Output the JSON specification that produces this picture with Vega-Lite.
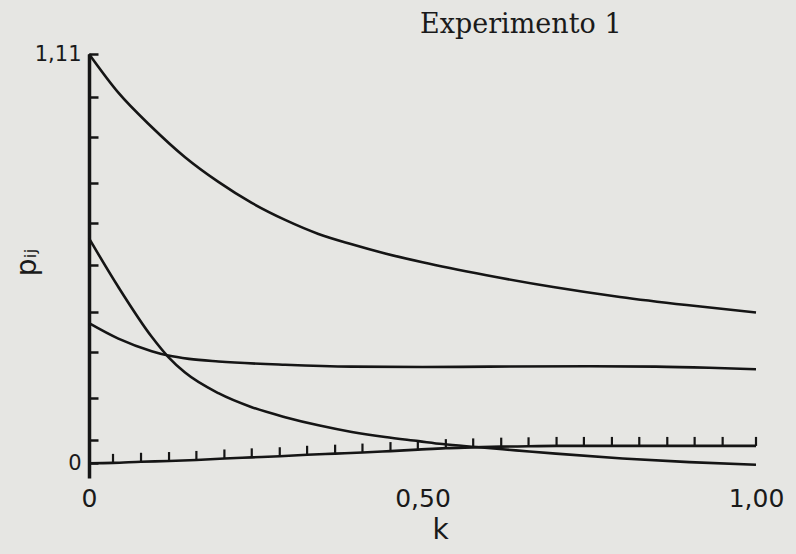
{
  "$schema": "https://vega.github.io/schema/vega-lite/v6.json",
  "autosize": {"type": "none"},
  "padding": {"left": 89, "top": 54, "right": 40, "bottom": 76},
  "width": 667,
  "height": 424,
  "background": "#e6e6e3",
  "config": {"view": {"stroke": null}, "font": "DejaVu Sans"},
  "title": {
    "text": "Experimento 1",
    "font": "DejaVu Serif",
    "fontSize": 27,
    "fontWeight": "normal",
    "color": "#1a1a1a",
    "anchor": "start",
    "frame": "group",
    "dx": 331,
    "offset": -17,
    "baseline": "alphabetic"
  },
  "datasets": {
    "curves": [
      {"curve": "A", "k": 0, "p": 1.11},
      {"curve": "A", "k": 0.044, "p": 1.005},
      {"curve": "A", "k": 0.094, "p": 0.912},
      {"curve": "A", "k": 0.144, "p": 0.83},
      {"curve": "A", "k": 0.194, "p": 0.763},
      {"curve": "A", "k": 0.244, "p": 0.706},
      {"curve": "A", "k": 0.294, "p": 0.66},
      {"curve": "A", "k": 0.344, "p": 0.622},
      {"curve": "A", "k": 0.394, "p": 0.594},
      {"curve": "A", "k": 0.444, "p": 0.569},
      {"curve": "A", "k": 0.5, "p": 0.545},
      {"curve": "A", "k": 0.596, "p": 0.51},
      {"curve": "A", "k": 0.696, "p": 0.478},
      {"curve": "A", "k": 0.796, "p": 0.451},
      {"curve": "A", "k": 0.896, "p": 0.429},
      {"curve": "A", "k": 1.0, "p": 0.409},
      {"curve": "B", "k": 0, "p": 0.61},
      {"curve": "B", "k": 0.044, "p": 0.478},
      {"curve": "B", "k": 0.094, "p": 0.343},
      {"curve": "B", "k": 0.119, "p": 0.288},
      {"curve": "B", "k": 0.144, "p": 0.246},
      {"curve": "B", "k": 0.194, "p": 0.19},
      {"curve": "B", "k": 0.244, "p": 0.152},
      {"curve": "B", "k": 0.294, "p": 0.125},
      {"curve": "B", "k": 0.344, "p": 0.103},
      {"curve": "B", "k": 0.394, "p": 0.085},
      {"curve": "B", "k": 0.444, "p": 0.071},
      {"curve": "B", "k": 0.494, "p": 0.06},
      {"curve": "B", "k": 0.53, "p": 0.052},
      {"curve": "B", "k": 0.58, "p": 0.044},
      {"curve": "B", "k": 0.64, "p": 0.035},
      {"curve": "B", "k": 0.7, "p": 0.026},
      {"curve": "B", "k": 0.8, "p": 0.013},
      {"curve": "B", "k": 0.9, "p": 0.003},
      {"curve": "B", "k": 1.0, "p": -0.004},
      {"curve": "C", "k": 0, "p": 0.38},
      {"curve": "C", "k": 0.044, "p": 0.338},
      {"curve": "C", "k": 0.094, "p": 0.304},
      {"curve": "C", "k": 0.119, "p": 0.292},
      {"curve": "C", "k": 0.15, "p": 0.283},
      {"curve": "C", "k": 0.194, "p": 0.276},
      {"curve": "C", "k": 0.294, "p": 0.267},
      {"curve": "C", "k": 0.394, "p": 0.262},
      {"curve": "C", "k": 0.5, "p": 0.261},
      {"curve": "C", "k": 0.6, "p": 0.262},
      {"curve": "C", "k": 0.75, "p": 0.263},
      {"curve": "C", "k": 0.85, "p": 0.262},
      {"curve": "C", "k": 0.93, "p": 0.259},
      {"curve": "C", "k": 1.0, "p": 0.255}
    ],
    "baseline": [
      {"k": 0, "p": 0},
      {"k": 0.036, "p": 0.001},
      {"k": 0.078, "p": 0.004},
      {"k": 0.12, "p": 0.006},
      {"k": 0.161, "p": 0.009},
      {"k": 0.203, "p": 0.013},
      {"k": 0.244, "p": 0.016},
      {"k": 0.286, "p": 0.019},
      {"k": 0.327, "p": 0.023},
      {"k": 0.369, "p": 0.026},
      {"k": 0.41, "p": 0.029},
      {"k": 0.452, "p": 0.033},
      {"k": 0.493, "p": 0.037},
      {"k": 0.535, "p": 0.041},
      {"k": 0.576, "p": 0.043},
      {"k": 0.618, "p": 0.045},
      {"k": 0.659, "p": 0.046},
      {"k": 0.701, "p": 0.047},
      {"k": 0.742, "p": 0.047},
      {"k": 0.784, "p": 0.047},
      {"k": 0.825, "p": 0.047},
      {"k": 0.867, "p": 0.047},
      {"k": 0.908, "p": 0.047},
      {"k": 0.95, "p": 0.047},
      {"k": 1.0, "p": 0.047}
    ]
  },
  "layer": [
    {
      "data": {"name": "curves"},
      "mark": {"type": "line", "interpolate": "monotone", "stroke": "#151515", "strokeWidth": 2.6},
      "encoding": {
        "x": {
          "field": "k",
          "type": "quantitative",
          "scale": {"domain": [0, 1], "nice": false, "zero": false},
          "axis": {
            "values": [0, 0.5, 1],
            "labelExpr": "datum.value == 0 ? '0' : (datum.value == 0.5 ? '0,50' : '1,00')",
            "domain": false,
            "ticks": false,
            "grid": false,
            "labelFlush": false,
            "labelPadding": 8,
            "labelFont": "DejaVu Sans",
            "labelFontSize": 25,
            "labelColor": "#1a1a1a",
            "title": "k",
            "titleFont": "DejaVu Sans",
            "titleFontSize": 28,
            "titleFontWeight": "normal",
            "titleColor": "#1a1a1a",
            "titleX": 351,
            "titleY": 60,
            "titleAlign": "center",
            "titleBaseline": "alphabetic"
          }
        },
        "y": {
          "field": "p",
          "type": "quantitative",
          "scale": {"domain": [-0.04, 1.11], "nice": false, "zero": false},
          "axis": {
            "values": [0, 0.062, 0.176, 0.301, 0.41, 0.537, 0.651, 0.76, 0.885, 0.993, 1.11],
            "labelExpr": "datum.value == 0 ? '0' : (datum.value == 1.11 ? '1,11' : '')",
            "grid": false,
            "domainColor": "#151515",
            "domainWidth": 3.5,
            "tickColor": "#151515",
            "tickWidth": 2.5,
            "tickSize": -9,
            "labelPadding": 17,
            "labelFont": "DejaVu Sans",
            "labelFontSize": 21,
            "labelColor": "#1a1a1a",
            "title": "pᵢⱼ",
            "titleFont": "DejaVu Sans",
            "titleFontSize": 28,
            "titleFontWeight": "normal",
            "titleColor": "#1a1a1a",
            "titleAngle": -90,
            "titleX": -62,
            "titleY": 208,
            "titleAlign": "center",
            "titleBaseline": "middle"
          }
        },
        "detail": {"field": "curve"}
      }
    },
    {
      "data": {"name": "baseline"},
      "mark": {"type": "line", "interpolate": "monotone", "stroke": "#151515", "strokeWidth": 2.6},
      "encoding": {
        "x": {"field": "k", "type": "quantitative"},
        "y": {"field": "p", "type": "quantitative"}
      }
    },
    {
      "data": {"name": "baseline"},
      "transform": [{"filter": "datum.k > 0"}],
      "mark": {"type": "point", "shape": "M0,0V-1", "size": 324, "filled": false, "stroke": "#151515", "strokeWidth": 2.2, "opacity": 1},
      "encoding": {
        "x": {"field": "k", "type": "quantitative"},
        "y": {"field": "p", "type": "quantitative"}
      }
    }
  ]
}
